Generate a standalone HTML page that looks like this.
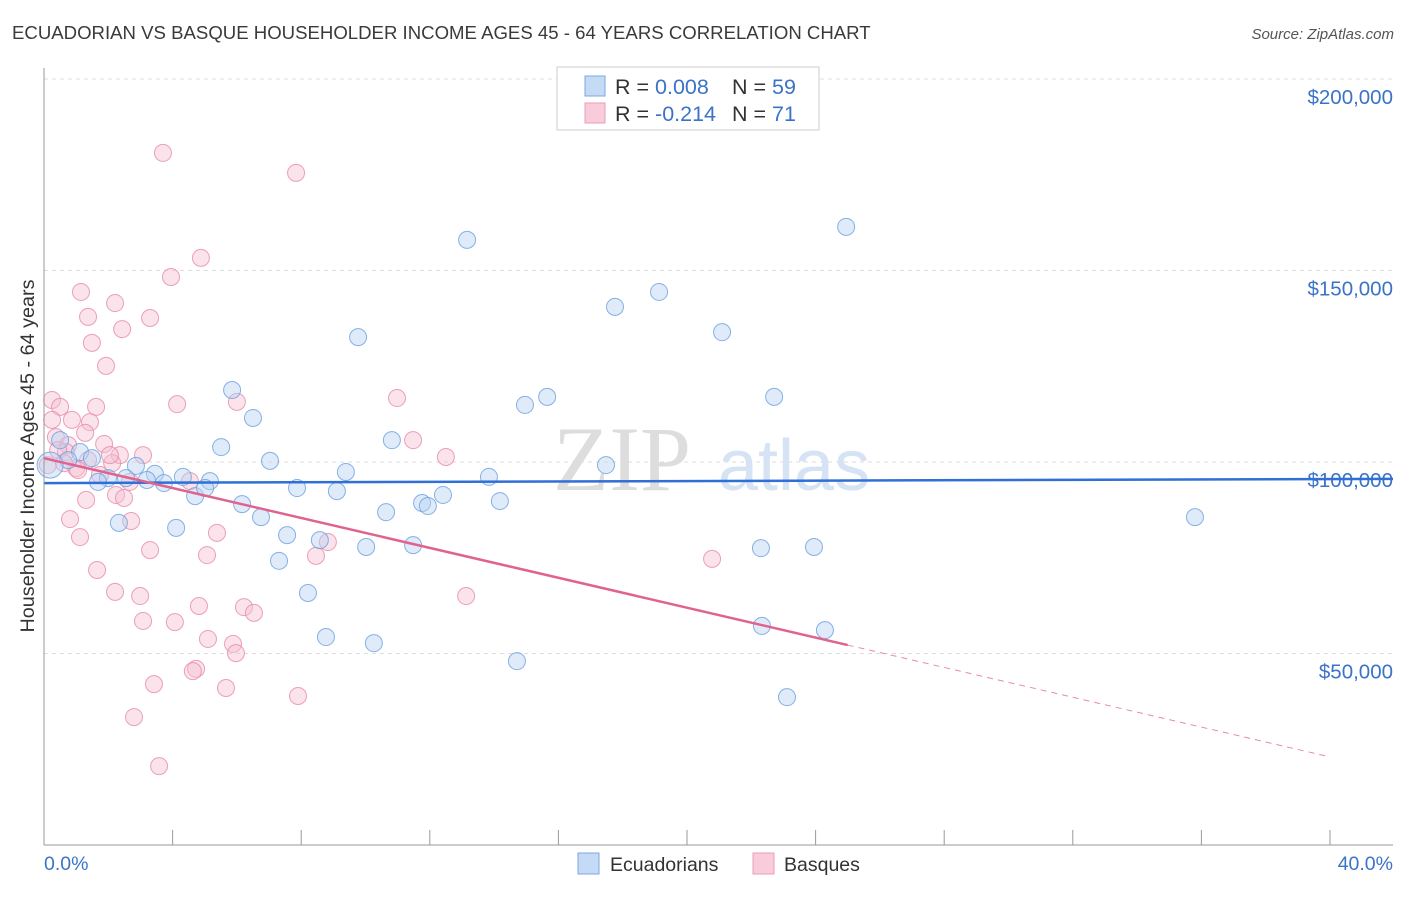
<!DOCTYPE html>
<html><head><meta charset="utf-8"><style>
body{margin:0;background:#fff;font-family:"Liberation Sans",sans-serif}
</style></head><body>
<svg id="c" width="1406" height="892" xmlns="http://www.w3.org/2000/svg" style="font-family:'Liberation Sans',sans-serif">
<text x="12" y="39" font-size="18.6" fill="#3a3a3a">ECUADORIAN VS BASQUE HOUSEHOLDER INCOME AGES 45 - 64 YEARS CORRELATION CHART</text>
<text x="1394" y="39" font-size="15" font-style="italic" fill="#555" text-anchor="end">Source: ZipAtlas.com</text>
<g id="grid"></g>
<g><text x="553" y="490" font-size="92" font-family="Liberation Serif" fill="#ddd">ZIP</text><text x="718" y="490" font-size="72" fill="#d5e3f5">atlas</text></g>
<g id="marks"></g>
<g id="axes"></g>
<text transform="translate(34,456) rotate(-90)" font-size="19.8" fill="#333" text-anchor="middle">Householder Income Ages 45 - 64 years</text>
<g>
<rect x="557" y="67" width="262" height="63" fill="#fff" stroke="#ccc"/>
<rect x="585" y="76" width="20" height="20" fill="#c4daf5" stroke="#7aa8e3"/>
<rect x="585" y="103" width="20" height="20" fill="#f8ccdb" stroke="#ec9bb5"/>
<text x="615" y="94" font-size="21.5" fill="#333">R = <tspan fill="#3b73c8">0.008</tspan><tspan x="732">N = </tspan><tspan fill="#3b73c8">59</tspan></text>
<text x="615" y="121" font-size="21.5" fill="#333">R = <tspan fill="#3b73c8">-0.214</tspan><tspan x="732">N = </tspan><tspan fill="#3b73c8"> 71</tspan></text>
</g>
<g>
<rect x="578" y="853" width="21" height="21" fill="#c4daf5" stroke="#7aa8e3"/>
<text x="610" y="871" font-size="19.5" fill="#333">Ecuadorians</text>
<rect x="753" y="853" width="21" height="21" fill="#f8ccdb" stroke="#ec9bb5"/>
<text x="784" y="871" font-size="19.5" fill="#333">Basques</text>
</g>
</svg>
<script>
const blueX=[13.16,24.95,19.13,17.76,21.09,9.77,22.71,15.65,14.96,5.85,6.50,10.82,5.51,7.03,17.48,9.39,13.84,3.45,4.32,5.16,3.73,2.86,2.55,1.99,1.68,1.12,0.50,0.75,1.49,3.20,7.87,9.11,12.41,11.76,11.94,14.18,6.16,4.70,5.01,6.75,10.64,2.33,4.11,7.56,8.58,10.02,11.48,7.31,8.21,22.30,23.95,35.80,22.33,24.29,8.77,10.26,14.71,23.11,0.19];
const blueY=[158.0,161.4,144.4,140.5,133.9,132.6,117.0,117.0,114.9,118.8,111.5,105.7,103.9,100.3,99.2,97.4,96.1,96.9,96.1,95.0,94.5,99.0,95.8,95.8,94.8,102.6,105.7,100.5,101.0,95.3,93.2,92.4,91.4,89.3,88.5,89.8,89.0,91.1,93.2,85.6,86.9,84.1,82.8,80.9,79.6,77.8,78.3,74.2,65.8,77.5,77.8,85.6,57.2,56.1,54.3,52.7,48.0,38.6,99.2];
const pinkX=[3.70,7.84,4.88,3.95,1.15,2.21,3.30,1.37,2.43,1.49,1.93,10.98,4.14,6.00,0.25,0.50,1.62,0.87,1.43,0.25,1.28,0.37,11.48,0.75,1.87,12.50,0.68,2.36,3.08,2.12,1.00,2.67,4.54,1.31,2.24,2.49,0.81,2.71,5.38,1.12,8.83,3.30,5.07,8.46,20.78,1.65,2.21,2.99,13.13,4.82,6.22,6.53,3.08,4.07,5.10,5.88,5.97,4.73,4.63,3.42,5.66,7.90,2.80,3.58,0.12,0.44,2.05,1.74,1.37,0.62,1.06];
const pinkY=[180.7,175.5,153.3,148.3,144.4,141.5,137.6,137.9,134.7,131.1,125.1,116.7,115.1,115.7,116.2,114.4,114.4,111.0,110.4,111.0,107.6,106.5,105.7,104.4,104.7,101.3,102.6,101.8,101.8,99.7,98.4,94.8,95.0,90.1,91.4,90.6,85.1,84.6,81.5,80.4,79.1,77.0,75.7,75.5,74.7,71.8,66.1,65.0,65.0,62.4,62.1,60.6,58.5,58.2,53.8,52.5,50.1,46.0,45.4,42.0,41.0,38.9,33.4,20.6,99.2,103.1,101.8,96.6,100.5,99.7,97.9];
const yTicks=[50,100,150,200];
const yTickLabels=["$50,000","$100,000","$150,000","$200,000"];
const blueTrend=[[0,94.5],[41.96,95.6]];
const pinkTrend=[[0,101.0],[25.0,52.2]];
const pinkDash=[[25.0,52.2],[40,23.0]];
const NS="http://www.w3.org/2000/svg";
const X=v=>44+v*32.15, Y=v=>845-v*191.5/50;
function mk(p,t,a){const e=document.createElementNS(NS,t);for(const k in a)e.setAttribute(k,a[k]);p.appendChild(e);return e;}
const grid=document.getElementById('grid'),marks=document.getElementById('marks'),axes=document.getElementById('axes');
yTicks.forEach((t,i)=>{
 const l=mk(grid,'line',{x1:44,x2:1393,y1:Y(t),y2:Y(t),stroke:'#ddd','stroke-dasharray':'4,4'});
 
 
 const tx=mk(grid,'text',{x:1393,y:Y(t)+25,'font-size':20.5,fill:'#3b73c8','text-anchor':'end'});
 tx.textContent=yTickLabels[i];
 
 
});
function pts(xs,ys,fill,stroke,name){xs.forEach((x,i)=>{
 const c=mk(marks,'circle',{cx:X(x),cy:Y(ys[i]),r:(i==xs.length-1&&name=='ecuadorian-point')?13:8.5,fill:fill,'fill-opacity':0.45,stroke:stroke,'stroke-opacity':0.8,'stroke-width':1});
 
 
});}
pts(pinkX,pinkY,'#f5c0d2','#e88aa8','basque-point');
pts(blueX,blueY,'#b8d2f2','#6a9fe0','ecuadorian-point');
function ln(t,col,w,dash,name){const l=mk(marks,'line',{x1:X(t[0][0]),y1:Y(t[0][1]),x2:X(t[1][0]),y2:Y(t[1][1]),stroke:col,'stroke-width':w});if(dash)l.setAttribute('stroke-dasharray',dash);
 
 }
ln(blueTrend,'#2f6fd6',2.5,null,'ecuadorian-trend-line');
ln(pinkTrend,'#e0638f',2.5,null,'basque-trend-line');
ln(pinkDash,'#e88aa8',1,'6,5','basque-trend-extension');
mk(axes,'line',{x1:44,x2:44,y1:68,y2:845,stroke:'#999'});
mk(axes,'line',{x1:44,x2:1393,y1:845,y2:845,stroke:'#999'});
for(let i=1;i<=10;i++)mk(axes,'line',{x1:X(i*4),x2:X(i*4),y1:830,y2:845,stroke:'#999'});
const a=mk(axes,'text',{x:44,y:870,'font-size':19.5,fill:'#3b73c8'});a.textContent='0.0%';


const b=mk(axes,'text',{x:1393,y:870,'font-size':19.5,fill:'#3b73c8','text-anchor':'end'});b.textContent='40.0%';


</script>
</body></html>
